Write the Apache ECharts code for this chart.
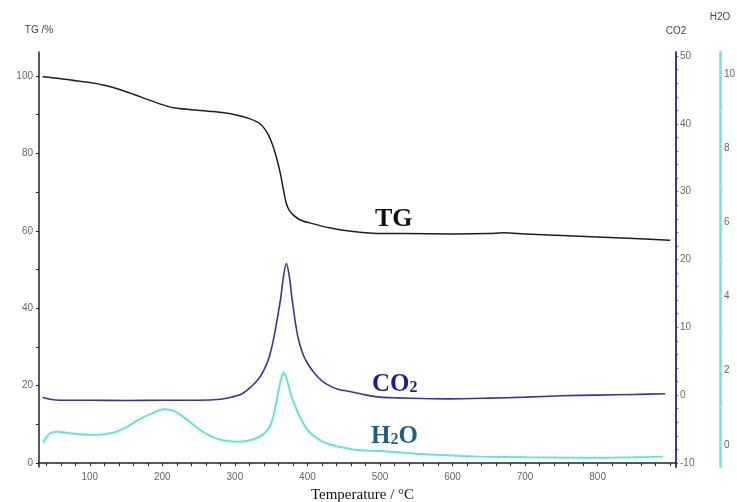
<!DOCTYPE html>
<html><head><meta charset="utf-8">
<script src="https://cdn.jsdelivr.net/npm/echarts@6/dist/echarts.min.js"></script>
<style>html,body{margin:0;padding:0;background:#fff}#c{width:737px;height:502px}</style>
</head><body><div id="c"></div>
<script>
// Temperature (°C) / value pairs
const tgData = [[35,99.8],[60,99.3],[80,98.8],[100,98.3],[120,97.6],[140,96.6],[160,95.3],[180,93.9],[200,92.6],[215,91.8],[240,91.3],[270,90.8],[300,90.0],[320,89.0],[335,87.6],[345,85.2],[352,82.2],[358,78.5],[363,74.5],[367,70.5],[371,67.0],[375,65.3],[380,64.2],[390,62.8],[404,62.0],[430,60.8],[460,59.9],[490,59.4],[530,59.3],[600,59.2],[650,59.3],[670,59.5],[700,59.2],[750,58.8],[800,58.4],[850,58.0],[900,57.6]];
const co2Data = [[35,-0.3],[45,-0.6],[60,-0.75],[100,-0.75],[150,-0.8],[200,-0.75],[250,-0.75],[280,-0.6],[295,-0.3],[310,0.2],[322,1.2],[332,2.3],[340,3.7],[347,5.5],[353,8.1],[358,11],[363,14.2],[367,17.5],[371,19.4],[375,17.5],[379,14],[383,11],[387,8.5],[393,6.3],[400,4.7],[410,3.2],[420,2.1],[430,1.4],[441,0.9],[455,0.6],[477,0.1],[500,-0.3],[524,-0.4],[560,-0.5],[593,-0.55],[650,-0.45],[700,-0.3],[750,-0.1],[800,0.0],[850,0.1],[893,0.2]];
const h2oData = [[36,0.05],[40,0.2],[46,0.32],[55,0.35],[70,0.32],[90,0.28],[111,0.27],[133,0.33],[150,0.47],[166,0.66],[185,0.84],[202,0.96],[212,0.94],[221,0.86],[235,0.66],[248,0.46],[262,0.28],[276,0.16],[290,0.1],[303,0.08],[318,0.11],[331,0.19],[340,0.3],[347,0.45],[352,0.7],[356,1.05],[360,1.45],[364,1.8],[367,1.95],[370,1.85],[374,1.6],[378,1.3],[383,1.05],[388,0.82],[395,0.55],[404,0.32],[418,0.12],[432,0.0],[450,-0.08],[469,-0.14],[500,-0.17],[550,-0.24],[600,-0.29],[638,-0.32],[700,-0.34],[776,-0.35],[850,-0.34],[890,-0.32]];

const xLabels = [100,200,300,400,500,600,700,800];
const xTicks = [40,60,80,100,120,140,160,180,200,220,240,260,280,300,320,340,360,380,400,420,440,460,480,500,520,540,560,580,600,620,640,660,680,700,720,740,760,780,800,820,840,860,880,900];
const tgLabels = [0,20,40,60,80,100];
const tgTicks = [0,10,20,30,40,50,60,70,80,90,100];
const co2Labels = [-10,0,10,20,30,40,50];
const co2Ticks = [-10,-8,-6,-4,-2,0,2,4,6,8,10,12,14,16,18,20,22,24,26,28,30,32,34,36,38,40,42,44,46,48,50];
const h2oLabels = [0,2,4,6,8,10];
const h2oTicks = [0,1,2,3,4,5,6,7,8,9,10];

const lblStyle = {color:'#666', fontSize:10, fontFamily:'Arial, Liberation Sans, sans-serif'};
const chart = echarts.init(document.getElementById('c'), null, {renderer:'canvas'});
chart.setOption({
  animation:false,
  backgroundColor:'#fff',
  grid:{left:39, right:61, top:52, bottom:35, containLabel:false, outerBoundsMode:'none'},
  xAxis:{type:'value', min:30, max:908,
    name:'Temperature / °C', nameLocation:'middle', nameGap:21,
    nameTextStyle:{color:'#111', fontSize:15, fontFamily:'Liberation Serif, Times New Roman, serif', padding:[0,0,0,10]},
    axisLine:{lineStyle:{color:'#222', width:1.5}},
    axisTick:{customValues:xTicks, length:3, lineStyle:{color:'#222'}},
    axisLabel:{customValues:xLabels, margin:5, ...lblStyle},
    splitLine:{show:false}},
  yAxis:[
    {type:'value', min:-1, max:106.2, position:'left',
      name:'TG /%', nameLocation:'end', nameGap:17,
      nameTextStyle:{color:'#444', fontSize:10, fontFamily:'Arial, Liberation Sans, sans-serif', align:'center'},
      axisLine:{show:true, lineStyle:{color:'#222', width:1.5}},
      axisTick:{show:true, customValues:tgTicks, length:3, lineStyle:{color:'#222'}},
      axisLabel:{customValues:tgLabels, margin:6, ...lblStyle},
      splitLine:{show:false}},
    {type:'value', min:-10.6, max:50.6, position:'right', offset:0,
      name:'CO2', nameLocation:'end', nameGap:16,
      nameTextStyle:{color:'#444', fontSize:10, fontFamily:'Arial, Liberation Sans, sans-serif', align:'center'},
      axisLine:{show:true, lineStyle:{color:'#3c3ca0', width:2}},
      axisTick:{show:true, customValues:co2Ticks, length:2, lineStyle:{color:'#3c3ca0'}},
      axisLabel:{customValues:co2Labels, margin:4, ...lblStyle},
      splitLine:{show:false}},
    {type:'value', min:-0.6, max:10.6, position:'right', offset:44,
      name:'H2O', nameLocation:'end', nameGap:30,
      nameTextStyle:{color:'#444', fontSize:10, fontFamily:'Arial, Liberation Sans, sans-serif', align:'center'},
      axisLine:{show:true, lineStyle:{color:'#66e6dc', width:2.5}},
      axisTick:{show:true, customValues:h2oTicks, length:2, lineStyle:{color:'#bfeeea'}},
      axisLabel:{customValues:h2oLabels, margin:4, ...lblStyle},
      splitLine:{show:false}}
  ],
  series:[
    {type:'line', name:'TG', yAxisIndex:0, data:tgData, showSymbol:false, smooth:0.3,
      lineStyle:{color:'#1e1e1e', width:1.5}},
    {type:'line', name:'CO2', yAxisIndex:1, data:co2Data, showSymbol:false, smooth:0.3,
      lineStyle:{color:'#3434a8', width:1.6}},
    {type:'line', name:'H2O', yAxisIndex:2, data:h2oData, showSymbol:false, smooth:0.3,
      lineStyle:{color:'#5ee6dc', width:2}}
  ],
  graphic:[
    {type:'text', left:375, top:206, style:{text:'TG', fill:'#111', font:'bold 26px "Liberation Serif", "Times New Roman", serif'}},
    {type:'text', left:372, top:372, style:{text:'{a|CO}{b|2}', rich:{
      a:{fill:'#1e1e8c', font:'bold 25px "Liberation Serif", serif'},
      b:{fill:'#1e1e8c', font:'bold 16px "Liberation Serif", serif', padding:[6,0,0,0]}}}},
    {type:'text', left:371, top:424, style:{text:'{a|H}{b|2}{a|O}', rich:{
      a:{fill:'#1a5f8a', font:'bold 25px "Liberation Serif", serif'},
      b:{fill:'#1a5f8a', font:'bold 16px "Liberation Serif", serif', padding:[6,0,0,0]}}}}
  ]
});
</script></body></html>
